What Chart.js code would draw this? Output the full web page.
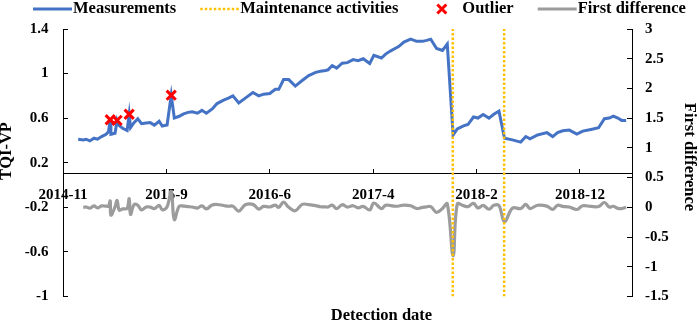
<!DOCTYPE html>
<html>
<head>
<meta charset="utf-8">
<script src="https://cdn.jsdelivr.net/npm/chart.js@4/dist/chart.umd.min.js"></script>
<style>
html,body{margin:0;padding:0;background:#fff;}
#wrap{width:699px;height:325px;}
</style>
</head>
<body>
<div id="wrap"><canvas id="c" width="699" height="325"></canvas></div>
<script>
// ---------------- data ----------------
const measurementDates = [
'2014-12-20','2015-01-04','2015-01-12','2015-01-23','2015-02-04','2015-02-14','2015-02-26','2015-03-11','2015-03-18','2015-03-23',
'2015-03-25','2015-04-06','2015-04-12','2015-04-18','2015-04-29','2015-05-11','2015-05-17','2015-05-21','2015-05-31','2015-06-11',
'2015-06-22','2015-07-05','2015-07-17','2015-07-29','2015-08-12','2015-08-21','2015-09-04','2015-09-16','2015-09-25','2015-10-09',
'2015-10-22','2015-11-04','2015-11-16','2015-12-01','2015-12-14','2015-12-27','2016-01-13','2016-01-27','2016-02-15','2016-02-29',
'2016-03-13','2016-03-30','2016-04-18','2016-05-10','2016-05-27','2016-06-10','2016-06-28','2016-07-14','2016-07-24','2016-08-07',
'2016-08-22','2016-09-10','2016-09-30','2016-10-19','2016-11-08','2016-11-22','2016-12-07','2016-12-14','2016-12-26','2017-01-08',
'2017-01-24','2017-02-08','2017-02-25','2017-03-11','2017-03-26','2017-04-14','2017-04-26','2017-05-18','2017-05-30','2017-06-14',
'2017-06-25','2017-07-08','2017-07-22','2017-08-11','2017-08-28','2017-09-14','2017-09-26','2017-10-08','2017-10-25','2017-11-11',
'2017-11-25','2017-12-12','2017-12-24','2018-01-11','2018-01-24','2018-02-09','2018-02-22','2018-03-09','2018-03-26','2018-04-09',
'2018-04-24','2018-05-10','2018-06-02','2018-06-26','2018-07-11','2018-07-23','2018-08-14','2018-09-10','2018-09-27','2018-10-11',
'2018-10-26','2018-11-14','2018-12-06','2018-12-23','2019-01-16','2019-02-07','2019-02-24','2019-03-10','2019-03-22','2019-04-04',
'2019-04-15','2019-04-28'
];
const tqiValues = [
0.411,0.405,0.411,0.396,0.420,0.411,0.435,0.455,0.478,0.586,
0.455,0.464,0.580,0.534,0.507,0.490,0.635,0.516,0.560,0.595,
0.551,0.556,0.560,0.538,0.572,0.529,0.538,0.806,0.601,0.617,
0.639,0.652,0.657,0.645,0.670,0.644,0.683,0.731,0.762,0.780,
0.800,0.736,0.780,0.830,0.800,0.815,0.821,0.859,0.859,0.946,
0.946,0.888,0.938,0.982,1.011,1.021,1.028,1.034,1.072,1.049,
1.093,1.098,1.125,1.116,1.133,1.090,1.163,1.140,1.175,1.204,
1.223,1.245,1.283,1.309,1.289,1.289,1.298,1.309,1.225,1.207,
1.265,0.449,0.503,0.531,0.543,0.610,0.601,0.633,0.601,0.635,
0.663,0.420,0.405,0.385,0.435,0.414,0.449,0.470,0.435,0.470,
0.487,0.493,0.457,0.484,0.499,0.514,0.595,0.601,0.619,0.601,
0.580,0.580
];
// first difference, one value per measurement from the 2nd one on
const firstDifference = [
-0.006,0.006,-0.015,0.024,-0.009,0.024,0.020,0.023,0.108,
-0.131,0.009,0.116,-0.046,-0.027,-0.017,0.145,-0.119,0.044,0.035,
-0.044,0.005,0.004,-0.022,0.034,-0.043,0.009,0.268,-0.205,0.016,
0.022,0.013,0.005,-0.012,0.025,-0.026,0.039,0.048,0.031,0.018,
0.020,-0.064,0.044,0.050,-0.030,0.015,0.006,0.038,0.000,0.087,
0.000,-0.058,0.050,0.044,0.029,0.010,0.007,0.006,0.038,-0.023,
0.044,0.005,0.027,-0.009,0.017,-0.043,0.073,-0.023,0.035,0.029,
0.019,0.022,0.038,0.026,-0.020,0.000,0.009,0.011,-0.084,-0.018,
0.058,-0.816,0.054,0.028,0.012,0.067,-0.009,0.032,-0.032,0.034,
0.028,-0.243,-0.015,-0.020,0.050,-0.021,0.035,0.021,-0.035,0.035,
0.017,0.006,-0.036,0.027,0.015,0.015,0.081,0.006,0.018,-0.018,
-0.021,0.000
];
const outlierDates = ['2015-03-23','2015-04-12','2015-05-17','2015-09-16'];
const outlierValues = [0.586,0.580,0.635,0.806];
const maintenanceDates = ['2017-12-11','2018-05-09'];
const xTickDates = ['2014-11-06','2015-09-02','2016-06-28','2017-04-24','2018-02-18','2018-12-15'];
const xTickLabels = ['2014-11','2015-9','2016-6','2017-4','2018-2','2018-12'];
const xAxisStart = '2014-11-06';
const xAxisEnd = '2019-05-15';
const seriesNames = ['Measurements','Maintenance activities','Outlier','First difference'];
const axisTitles = {x: 'Detection date', y: 'TQI-VP', y1: 'First difference'};

// ---------------- helpers ----------------
const ORIGIN = Date.UTC(2014, 10, 6);
function dayOf(s) {
  const p = s.split('-').map(Number);
  return (Date.UTC(p[0], p[1] - 1, p[2]) - ORIGIN) / 864e5;
}
const leftMin = -1, leftMax = 1.4, leftStep = 0.4;
const rightMin = -1.5, rightMax = 3, rightStep = 0.5;

const measurementPts = measurementDates.map((d, i) => ({x: dayOf(d), y: tqiValues[i]}));
const diffPts = firstDifference.map((v, i) => ({x: dayOf(measurementDates[i + 1]), y: v}));
const outlierPts = outlierDates.map((d, i) => ({x: dayOf(d), y: outlierValues[i]}));
const maintenancePts = [];
maintenanceDates.forEach((d, i) => {
  if (i > 0) maintenancePts.push({x: dayOf(d), y: null});
  maintenancePts.push({x: dayOf(d), y: leftMin}, {x: dayOf(d), y: leftMax});
});

const SERIF = '"Liberation Serif", "Times New Roman", serif';
const tickFont = {family: SERIF, size: 15, weight: 'bold'};
const fmt = v => String(Number(Number(v).toFixed(2)));

const BLUE = '#4472C4', ORANGE = '#FFC000', RED = '#FF0000', GRAY = '#9C9C9C';

// legend + axis titles drawn on the canvas
const extrasPlugin = {
  id: 'extras',
  afterDraw(chart) {
    const ctx = chart.ctx;
    ctx.save();
    ctx.font = 'bold 16.5px ' + SERIF;
    ctx.textBaseline = 'middle';
    ctx.textAlign = 'left';
    const y = 9;
    let x = 33;
    const sampleW = 39, textGap = 1, itemGap = 24;
    [0, 1, 2, 3].forEach(i => {
      const ds = chart.data.datasets[i];
      ctx.save();
      if (ds.showLine === false) {
        const cx = x + sampleW / 2, r = 4.5;
        ctx.strokeStyle = ds.borderColor;
        ctx.lineWidth = ds.borderWidth;
        ctx.beginPath();
        ctx.moveTo(cx - r, y - r); ctx.lineTo(cx + r, y + r);
        ctx.moveTo(cx + r, y - r); ctx.lineTo(cx - r, y + r);
        ctx.stroke();
      } else {
        ctx.strokeStyle = ds.borderColor;
        ctx.lineWidth = ds.borderWidth;
        ctx.setLineDash(ds.borderDash || []);
        ctx.beginPath();
        ctx.moveTo(x, y); ctx.lineTo(x + sampleW, y);
        ctx.stroke();
      }
      ctx.restore();
      ctx.fillStyle = '#000';
      ctx.fillText(ds.label, x + sampleW + textGap, y);
      x += sampleW + textGap + ctx.measureText(ds.label).width + itemGap;
    });
    ctx.textAlign = 'center';
    ctx.fillText(axisTitles.x, 381.5, 316);
    // left axis title (reads bottom to top)
    ctx.save();
    ctx.translate(7, 151);
    ctx.rotate(-Math.PI / 2);
    ctx.fillText(axisTitles.y, 0, 0);
    ctx.restore();
    // right axis title (reads top to bottom)
    ctx.save();
    ctx.translate(689, 157);
    ctx.rotate(Math.PI / 2);
    ctx.fillText(axisTitles.y1, 0, 0);
    ctx.restore();
    ctx.restore();
  }
};

new Chart(document.getElementById('c'), {
  type: 'line',
  data: {
    datasets: [
      {
        label: seriesNames[0], data: measurementPts, yAxisID: 'y',
        borderColor: BLUE, backgroundColor: BLUE, borderWidth: 3,
        pointRadius: 0, tension: 0, order: 2
      },
      {
        label: seriesNames[1], data: maintenancePts, yAxisID: 'y',
        borderColor: ORANGE, backgroundColor: ORANGE, borderWidth: 2.5,
        borderDash: [2.5, 2], pointRadius: 0, spanGaps: false, order: 1
      },
      {
        label: seriesNames[2], data: outlierPts, yAxisID: 'y', showLine: false,
        borderColor: RED, backgroundColor: RED, borderWidth: 3,
        pointStyle: 'crossRot', pointRadius: 6.5, order: 0
      },
      {
        label: seriesNames[3], data: diffPts, yAxisID: 'y1',
        borderColor: GRAY, backgroundColor: GRAY, borderWidth: 3.2,
        pointRadius: 0, tension: 0.4, order: 3
      }
    ]
  },
  options: {
    responsive: false,
    animation: false,
    devicePixelRatio: 1,
    layout: {padding: {top: 29, bottom: 23.3, left: -4, right: 0}},
    plugins: {legend: {display: false}, tooltip: {enabled: false}},
    scales: {
      x: {
        type: 'linear',
        position: {y: 0.1},
        min: dayOf(xAxisStart), max: dayOf(xAxisEnd),
        afterBuildTicks: s => { s.ticks = xTickDates.map(d => ({value: dayOf(d)})); },
        ticks: {autoSkip: false, maxRotation: 0, padding: 17, color: '#000', font: tickFont,
                callback: (v, i) => xTickLabels[i]},
        grid: {drawOnChartArea: false, drawTicks: true, tickLength: -5, color: '#000', lineWidth: 1},
        border: {display: true, color: '#000', width: 1}
      },
      y: {
        position: 'left', min: leftMin, max: leftMax,
        ticks: {stepSize: leftStep, padding: 19.5, color: '#000', font: tickFont, callback: fmt},
        grid: {drawOnChartArea: false, drawTicks: true, tickLength: -5, color: '#000', lineWidth: 1},
        border: {display: true, color: '#000', width: 1},
        afterFit: s => { s.width = 67; }
      },
      y1: {
        position: 'right', min: rightMin, max: rightMax,
        ticks: {stepSize: rightStep, padding: 18, color: '#000', font: tickFont, callback: fmt},
        grid: {drawOnChartArea: false, drawTicks: true, tickLength: -5, color: '#000', lineWidth: 1},
        border: {display: true, color: '#000', width: 1},
        afterFit: s => { s.width = 67; }
      }
    }
  },
  plugins: [extrasPlugin]
});
</script>
</body>
</html>
